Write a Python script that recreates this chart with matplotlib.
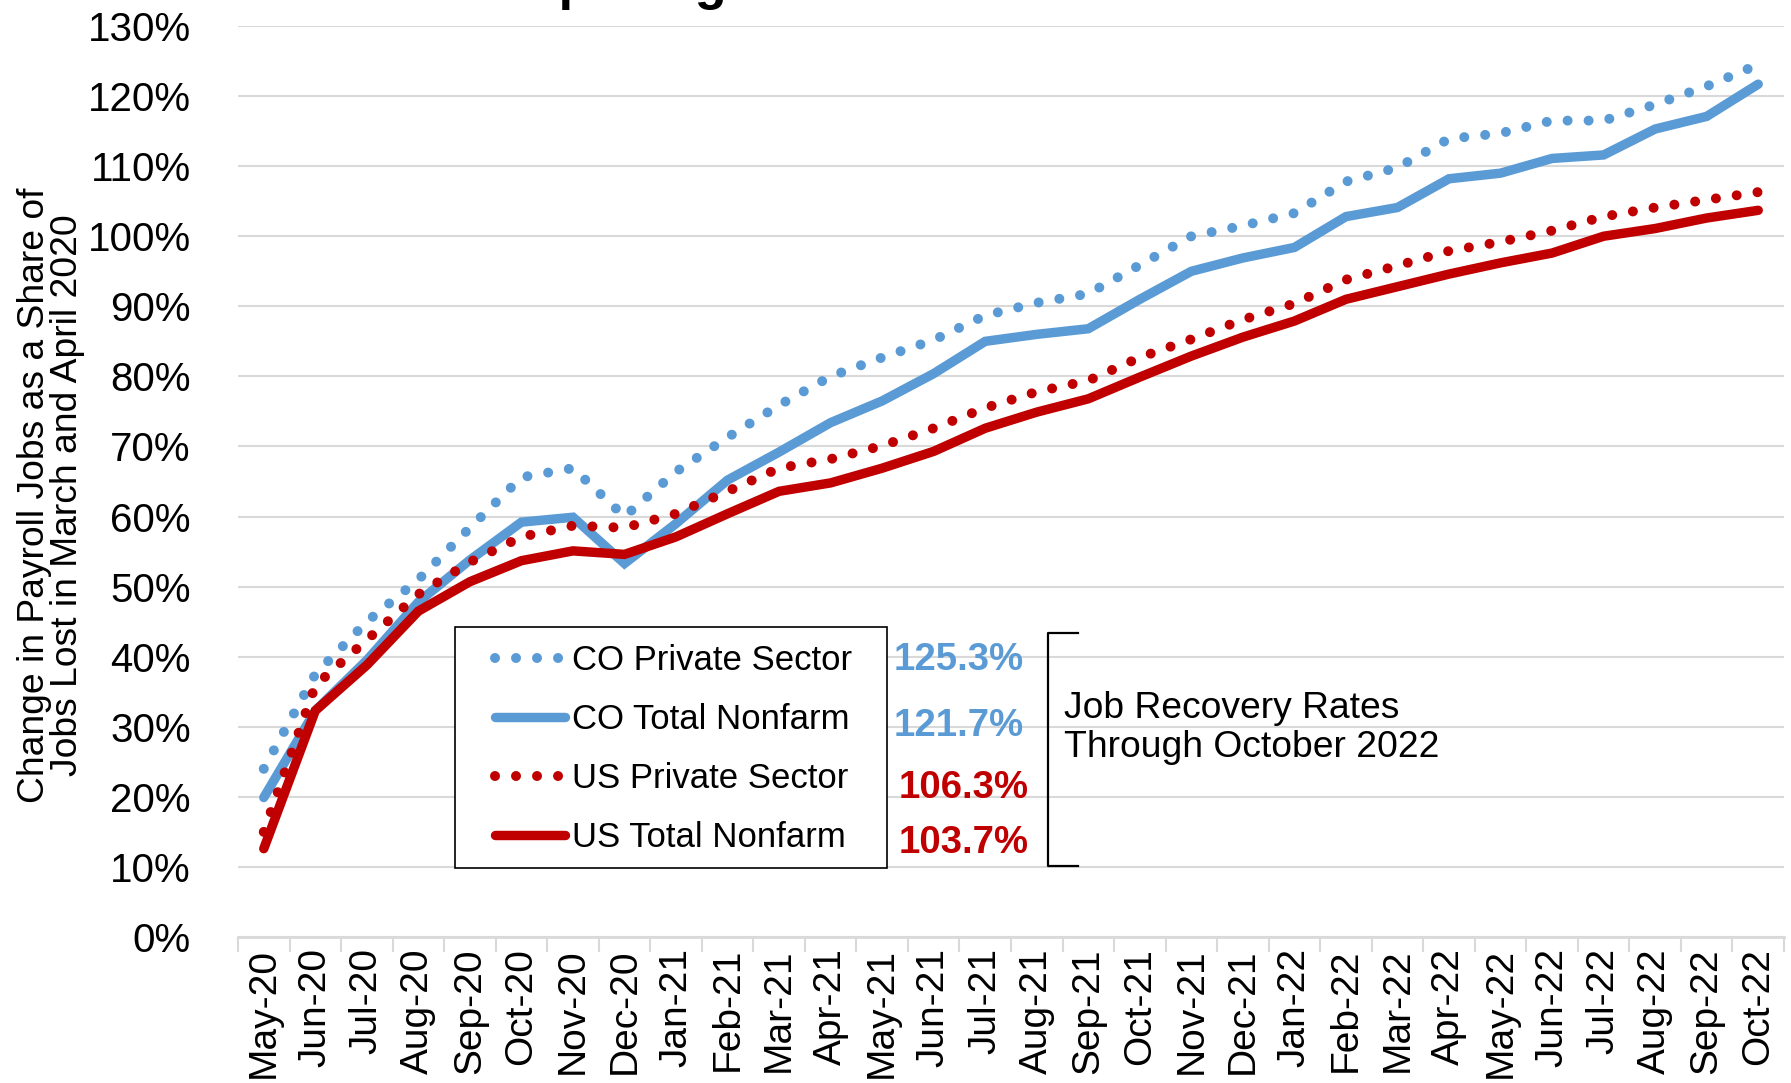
import matplotlib
matplotlib.use('Agg')
from matplotlib import pyplot as plt
from matplotlib.patches import Rectangle
from matplotlib.lines import Line2D

plt.rcParams['font.family'] = ['Liberation Sans', 'DejaVu Sans']

# data (percent of jobs lost in Mar/Apr 2020 regained)
months = ['May-20', 'Jun-20', 'Jul-20', 'Aug-20', 'Sep-20', 'Oct-20', 'Nov-20', 'Dec-20',
          'Jan-21', 'Feb-21', 'Mar-21', 'Apr-21', 'May-21', 'Jun-21', 'Jul-21', 'Aug-21',
          'Sep-21', 'Oct-21', 'Nov-21', 'Dec-21', 'Jan-22', 'Feb-22', 'Mar-22', 'Apr-22',
          'May-22', 'Jun-22', 'Jul-22', 'Aug-22', 'Sep-22', 'Oct-22']

co_private = [24.0, 37.5, 45.0, 51.0, 58.4, 65.6, 66.9, 60.0, 66.4, 71.3, 75.9, 80.0, 82.7, 85.2,
              88.7, 90.5, 91.8, 95.9, 100.0, 101.5, 103.3, 107.8, 109.8, 113.9, 114.7, 116.5,
              116.5, 118.8, 121.4, 124.5]
co_total = [19.9, 32.3, 39.5, 47.8, 53.8, 59.2, 59.9, 53.3, 59.0, 65.2, 69.2, 73.4, 76.5, 80.4,
            85.0, 86.0, 86.8, 91.0, 95.0, 96.9, 98.4, 102.8, 104.1, 108.2, 109.0, 111.1,
            111.6, 115.3, 117.1, 121.7]
us_private = [15.0, 35.9, 42.4, 48.9, 53.5, 57.1, 58.7, 58.4, 60.4, 63.6, 66.9, 68.2, 70.1, 72.6,
              75.5, 77.8, 79.4, 82.7, 85.3, 88.1, 90.4, 93.8, 95.8, 97.9, 99.2, 100.8,
              102.8, 104.1, 105.2, 106.3]
us_total = [12.6, 32.3, 38.8, 46.5, 50.7, 53.7, 55.1, 54.6, 57.1, 60.4, 63.6, 64.8, 66.9, 69.3,
            72.6, 74.9, 76.8, 79.9, 82.9, 85.6, 87.9, 91.0, 92.8, 94.6, 96.2, 97.6,
            100.0, 101.1, 102.6, 103.7]

series_names = ['CO Private Sector', 'CO Total Nonfarm', 'US Private Sector', 'US Total Nonfarm']
final_labels = ['125.3%', '121.7%', '106.3%', '103.7%']
yticks = list(range(0, 140, 10))

BLUE = '#5B9BD5'
RED = '#C00000'
GRID = '#D9D9D9'

W, H = 1791, 1083


def fx(px):
    return px / W


def fy(py):
    return 1 - py / H


fig = plt.figure(figsize=(W / 100, H / 100), dpi=100)
ax = fig.add_axes([fx(238), fy(937), fx(1784) - fx(238), fy(26) - fy(937)])

x = list(range(len(months)))
dot = (0, (0.001, 2.1))
l1, = ax.plot(x, co_private, color=BLUE, lw=7.2, ls=dot, dash_capstyle='round', zorder=3)
l2, = ax.plot(x, co_total, color=BLUE, lw=6.8, solid_capstyle='round', solid_joinstyle='miter', zorder=3)
l3, = ax.plot(x, us_private, color=RED, lw=7.2, ls=dot, dash_capstyle='round', zorder=3)
l4, = ax.plot(x, us_total, color=RED, lw=6.8, solid_capstyle='round', solid_joinstyle='miter', zorder=3)

ax.set_xlim(-0.5, len(months) - 0.5)
ax.set_ylim(0, 130)
ax.set_yticks(yticks)
ax.set_yticklabels([f'{v}%' for v in yticks], fontsize=29)
ax.set_xticks(x)
ax.set_xticklabels(months, rotation=90, fontsize=28)
ax.set_xticks([i - 0.5 for i in range(len(months) + 1)], minor=True)
ax.tick_params(axis='x', which='major', length=0, pad=8)
ax.tick_params(axis='x', which='minor', length=11, width=1.5, color=GRID)
ax.tick_params(axis='y', length=0, pad=34)
ax.grid(axis='y', color=GRID, lw=1.5, zorder=0)
ax.set_axisbelow(True)
for s in ['top', 'right', 'left']:
    ax.spines[s].set_visible(False)
ax.spines['bottom'].set_color(GRID)
ax.spines['bottom'].set_linewidth(2)

# title (cut off at the top in the reference)
fig.text(fx(226), 1 + 1.0 / H, 'Colorado Outpacing the Nation', fontsize=37.5,
         fontweight='bold', va='baseline', ha='left')

fig.text(fx(51), fy(495), 'Change in Payroll Jobs as a Share of\nJobs Lost in March and April 2020',
         rotation=90, ha='center', va='center', multialignment='center', fontsize=26.8,
         linespacing=0.95)

# legend box
fig.add_artist(Rectangle((fx(455), fy(868)), fx(887) - fx(455), fy(627) - fy(868),
                         transform=fig.transFigure, facecolor='white', edgecolor='black',
                         lw=1.2, zorder=4))
leg = fig.legend([l1, l2, l3, l4], series_names, loc='center left',
                 bbox_to_anchor=(fx(478), fy(749)), frameon=False, fontsize=25,
                 borderpad=0, labelspacing=0.75, handlelength=2.0, handletextpad=0.2)
leg.set_zorder(5)

colors = [BLUE, BLUE, RED, RED]
label_x = [894, 894, 899, 899]
label_y = [660, 726, 788, 843]
for txt, c, lx, ly in zip(final_labels, colors, label_x, label_y):
    fig.text(fx(lx), fy(ly), txt, color=c, fontsize=27.6, fontweight='bold',
             ha='left', va='center')

# bracket
fig.add_artist(Line2D([fx(1078), fx(1048), fx(1048), fx(1078)],
                      [fy(633), fy(633), fy(866), fy(866)],
                      transform=fig.transFigure, color='black', lw=1.6,
                      solid_joinstyle='round'))
fig.text(fx(1064), fy(728), 'Job Recovery Rates\nThrough October 2022', fontsize=26.8,
         ha='left', va='center', linespacing=1.15)

fig.savefig('out.png', dpi=100)
